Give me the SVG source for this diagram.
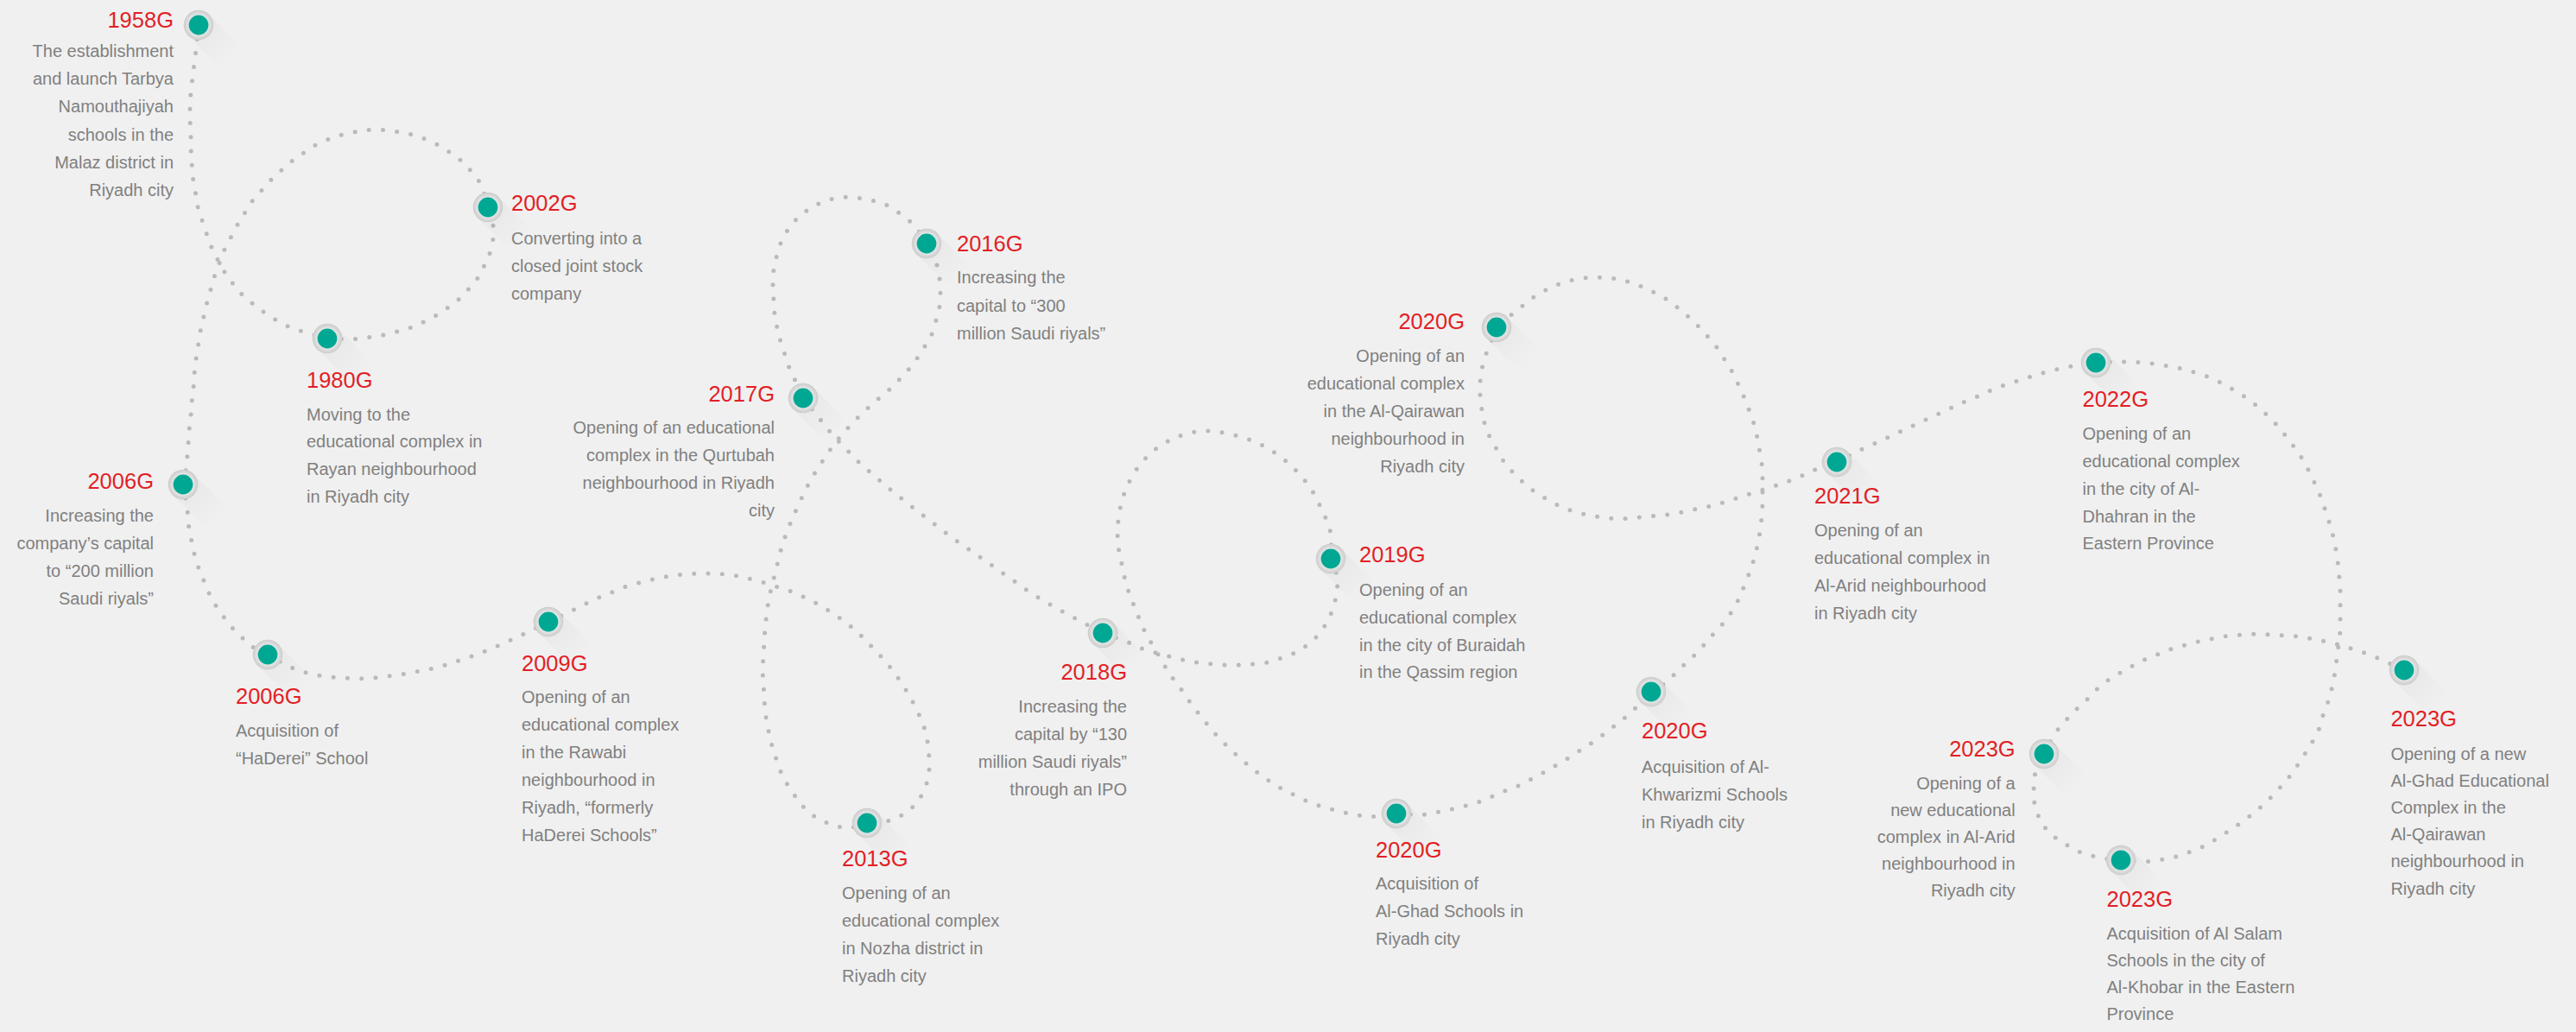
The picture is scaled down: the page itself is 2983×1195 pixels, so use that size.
<svg xmlns="http://www.w3.org/2000/svg" xmlns:xlink="http://www.w3.org/1999/xlink" width="2983" height="1195" viewBox="0 0 2983 1195">
<defs>
<style>
.conn{fill:none;stroke:#bababa;stroke-width:5;stroke-linecap:round;stroke-linejoin:round;stroke-dasharray:0 16.3}
.yr{font-family:"Liberation Sans",Arial,sans-serif;font-size:25.5px;fill:#e21f26}
.bd{font-family:"Liberation Sans",Arial,sans-serif;font-size:20px;fill:#808080}
.e{text-anchor:end}
</style>
<radialGradient id="ring" cx="0.5" cy="0.5" r="0.5">
<stop offset="0.6" stop-color="#ececec"/>
<stop offset="1" stop-color="#cbcbcb"/>
</radialGradient>
<linearGradient id="sh" gradientUnits="userSpaceOnUse" x1="0" y1="0" x2="40" y2="40">
<stop offset="0" stop-color="#000" stop-opacity="0.035"/>
<stop offset="1" stop-color="#000" stop-opacity="0"/>
</linearGradient>
<g id="pin">
<path d="M-12 12 L12 -12 L52 28 L28 52 Z" fill="url(#sh)"/>
<circle r="17.3" fill="url(#ring)"/>
<circle r="11.4" fill="#00a894"/>
</g>
</defs>
<rect width="2983" height="1195" fill="#f0f0f0"/>
<g id="connectors">
<path class="conn" d="M230 29 L227 58 L225 73 L223 90 L221 106 L220 122 L220 139 L221 155 L221 171 L222 187 L223 204 L226 220 L228 236 L233 252 L238 267 L243 282 L250 297 L258 312 L267 325 L277 338 L289 349 L302 359 L315 368 L329 376 L344 382 L360 387 L379 392"/>
<path class="conn" d="M379 392 L408 393 L440 389 L472 381 L501 368 L528 350 L551 326 L566 298 L571 277 L571 261 L565 240"/>
<path class="conn" d="M565 240 L558 214 L538 189 L512 170 L483 157 L451 151 L435 150 L419 151 L388 158 L363 169 L336 188 L312 210 L291 234 L274 262 L259 291 L248 321 L239 353 L232 384 L227 416 L225 433 L224 449 L222 466 L221 482 L219 498 L218 514 L216 540 L212 561"/>
<path class="conn" d="M212 561 L217 590 L218 606 L221 622 L224 638 L229 655 L235 670 L241 685 L249 700 L258 713 L268 726 L280 738 L292 749 L310 758"/>
<path class="conn" d="M310 758 L335 772 L351 778 L367 782 L383 784 L400 785 L416 786 L433 785 L449 783 L465 781 L481 778 L497 775 L513 771 L537 763 L552 758 L567 752 L581 746 L596 739 L611 732 L635 720"/>
<path class="conn" d="M635 720 L654 711 L669 704 L684 696 L698 690 L713 684 L728 678 L744 674 L759 670 L775 667 L791 665 L807 664 L823 664 L839 665 L855 667 L871 671 L886 675 L901 680 L917 685 L939 695 L953 703 L967 712 L980 721 L992 731 L1003 742 L1014 754 L1025 765 L1035 778 L1044 791 L1053 805 L1060 819 L1067 833 L1072 848 L1075 864 L1076 879 L1076 896 L1072 911 L1065 925 L1054 938 L1041 946 L1033 950 L1004 953"/>
<path class="conn" d="M1004 953 L984 959 L968 957 L953 951 L939 943 L928 932 L918 918 L909 904 L902 889 L897 873 L892 857 L889 841 L886 825 L885 808 L884 792 L883 776 L884 759 L885 743 L886 726 L888 710 L890 694 L898 662 L902 646 L906 630 L912 614 L918 599 L925 584 L932 569 L939 555 L948 541 L957 527 L967 513 L977 501 L988 489 L1000 477 L1017 462 L1029 452 L1041 440 L1052 428 L1062 415 L1071 401 L1079 387 L1084 371 L1088 355 L1089 339 L1088 323 L1085 307 L1073 282"/>
<path class="conn" d="M1073 282 L1061 263 L1049 252 L1036 243 L1026 237 L1010 232 L993 229 L977 228 L960 231 L945 237 L931 246 L919 257 L909 271 L902 286 L898 302 L895 318 L895 332 L896 348 L897 364 L900 380 L904 396 L909 411 L914 426 L921 441 L930 461"/>
<path class="conn" d="M930 461 L947 482 L957 495 L967 507 L979 519 L990 531 L1002 542 L1014 552 L1026 563 L1039 573 L1051 583 L1064 593 L1077 603 L1090 613 L1103 623 L1116 632 L1129 641 L1142 650 L1156 660 L1176 674 L1190 684 L1204 693 L1218 701 L1232 709 L1247 717 L1262 725 L1277 733"/>
<path class="conn" d="M1277 733 L1307 744 L1322 751 L1339 756 L1354 760 L1370 764 L1386 767 L1403 769 L1419 770 L1436 770 L1452 769 L1468 767 L1484 762 L1500 756 L1514 747 L1526 736 L1536 722 L1543 707 L1547 692 L1549 676 L1548 665 L1541 647"/>
<path class="conn" d="M1541 647 L1542 620 L1537 604 L1530 589 L1523 574 L1514 560 L1503 547 L1492 536 L1479 526 L1465 517 L1450 510 L1434 505 L1418 501 L1402 499 L1390 499 L1373 502 L1358 508 L1343 516 L1330 527 L1319 539 L1310 553 L1303 568 L1298 584 L1295 601 L1294 618 L1295 634 L1298 648 L1301 664 L1305 680 L1311 696 L1317 711 L1323 726 L1331 741 L1340 756 L1348 770 L1357 784 L1367 797 L1382 819 L1392 831 L1402 844 L1413 856 L1425 868 L1437 879 L1449 889 L1462 899 L1475 908 L1489 916 L1504 923 L1518 930 L1534 935 L1549 939 L1565 943 L1581 945 L1597 946 L1617 942"/>
<path class="conn" d="M1617 942 L1646 944 L1662 941 L1678 938 L1693 934 L1709 930 L1724 924 L1739 917 L1754 912 L1768 905 L1783 897 L1797 889 L1811 881 L1825 872 L1839 863 L1852 854 L1865 844 L1878 834 L1890 824 L1912 801"/>
<path class="conn" d="M1912 801 L1927 792 L1939 781 L1951 769 L1963 758 L1974 746 L1985 733 L1999 718 L2006 707 L2014 693 L2020 678 L2026 663 L2031 648 L2035 632 L2038 616 L2040 600 L2041 584 L2041 566 L2041 551 L2040 535 L2037 519 L2034 502 L2030 487 L2024 471 L2018 456 L2011 441 L2004 427 L1995 413 L1986 399 L1975 387 L1964 375 L1952 364 L1940 354 L1926 344 L1912 337 L1897 330 L1882 325 L1866 322 L1850 321 L1834 322 L1817 325 L1802 330 L1788 337 L1773 346 L1761 356 L1747 367 L1733 379"/>
<path class="conn" d="M1733 379 L1726 398 L1720 412 L1716 427 L1714 443 L1714 459 L1716 475 L1719 490 L1725 506 L1733 520 L1741 534 L1751 546 L1762 557 L1774 567 L1788 576 L1802 584 L1816 590 L1832 595 L1847 598 L1863 600 L1874 601 L1890 600 L1906 598 L1922 597 L1938 595 L1954 592 L1970 588 L1986 585 L2002 580 L2017 575 L2032 570 L2048 565 L2064 560 L2079 554 L2094 548 L2109 540 L2127 535"/>
<path class="conn" d="M2127 535 L2154 521 L2168 515 L2183 508 L2198 501 L2213 494 L2228 487 L2243 480 L2258 473 L2273 466 L2288 460 L2303 453 L2318 447 L2333 442 L2349 437 L2365 432 L2381 428 L2404 423 L2427 420"/>
<path class="conn" d="M2427 420 L2452 419 L2468 419 L2484 420 L2500 422 L2516 425 L2532 428 L2547 433 L2562 438 L2577 446 L2591 454 L2605 463 L2617 473 L2629 484 L2640 496 L2650 509 L2660 522 L2669 536 L2676 550 L2683 565 L2689 579 L2694 595 L2699 610 L2703 626 L2706 642 L2708 658 L2709 670 L2710 683 L2710 699 L2710 715 L2710 731 L2708 747 L2706 763 L2704 778 L2701 794 L2697 810 L2691 825 L2686 843 L2679 857 L2671 870 L2662 884 L2653 897 L2643 909 L2632 921 L2621 932 L2609 942 L2596 952 L2583 961 L2569 970 L2548 982 L2532 988 L2517 993 L2500 996 L2484 998 L2456 996"/>
<path class="conn" d="M2456 996 L2436 994 L2419 990 L2404 985 L2391 977 L2377 968 L2366 956 L2359 942 L2355 926 L2355 914 L2356 898 L2367 873"/>
<path class="conn" d="M2367 873 L2376 855 L2385 842 L2396 830 L2407 819 L2419 808 L2432 794 L2445 785 L2459 777 L2473 769 L2487 762 L2503 756 L2518 750 L2534 746 L2549 742 L2565 739 L2581 736 L2598 735 L2614 734 L2630 735 L2646 736 L2662 737 L2678 740 L2694 743 L2710 747 L2726 752 L2741 757 L2756 763 L2784 776"/>
</g>
<g id="n1958">
<use xlink:href="#pin" x="230" y="29"/>
<text class="yr e" x="201" y="32">1958G</text>
<text class="bd e"><tspan x="201" y="66">The establishment</tspan><tspan x="201" y="98">and launch Tarbya</tspan><tspan x="201" y="130">Namouthajiyah</tspan><tspan x="201" y="162.5">schools in the</tspan><tspan x="201" y="194.5">Malaz district in</tspan><tspan x="201" y="226.5">Riyadh city</tspan></text>
</g>
<g id="n1980">
<use xlink:href="#pin" x="379" y="392"/>
<text class="yr" x="355" y="449">1980G</text>
<text class="bd"><tspan x="355" y="486.5">Moving to the</tspan><tspan x="355" y="518.3">educational complex in</tspan><tspan x="355" y="550.2">Rayan neighbourhood</tspan><tspan x="355" y="582">in Riyadh city</tspan></text>
</g>
<g id="n2002">
<use xlink:href="#pin" x="565" y="240"/>
<text class="yr" x="592" y="244">2002G</text>
<text class="bd"><tspan x="592" y="283">Converting into a</tspan><tspan x="592" y="315">closed joint stock</tspan><tspan x="592" y="347">company</tspan></text>
</g>
<g id="n2006a">
<use xlink:href="#pin" x="212" y="561"/>
<text class="yr e" x="178" y="566">2006G</text>
<text class="bd e"><tspan x="178" y="604">Increasing the</tspan><tspan x="178" y="636">company’s capital</tspan><tspan x="178" y="668">to “200 million</tspan><tspan x="178" y="700">Saudi riyals”</tspan></text>
</g>
<g id="n2006b">
<use xlink:href="#pin" x="310" y="758"/>
<text class="yr" x="273" y="815">2006G</text>
<text class="bd"><tspan x="273" y="853">Acquisition of</tspan><tspan x="273" y="885">“HaDerei” School</tspan></text>
</g>
<g id="n2009">
<use xlink:href="#pin" x="635" y="720"/>
<text class="yr" x="604" y="777">2009G</text>
<text class="bd"><tspan x="604" y="814.4">Opening of an</tspan><tspan x="604" y="846.4">educational complex</tspan><tspan x="604" y="878.4">in the Rawabi</tspan><tspan x="604" y="910.4">neighbourhood in</tspan><tspan x="604" y="942.4">Riyadh, “formerly</tspan><tspan x="604" y="974.4">HaDerei Schools”</tspan></text>
</g>
<g id="n2013">
<use xlink:href="#pin" x="1004" y="953"/>
<text class="yr" x="975" y="1003">2013G</text>
<text class="bd"><tspan x="975" y="1041">Opening of an</tspan><tspan x="975" y="1073">educational complex</tspan><tspan x="975" y="1105">in Nozha district in</tspan><tspan x="975" y="1137">Riyadh city</tspan></text>
</g>
<g id="n2016">
<use xlink:href="#pin" x="1073" y="282"/>
<text class="yr" x="1108" y="291">2016G</text>
<text class="bd"><tspan x="1108" y="328.3">Increasing the</tspan><tspan x="1108" y="360.5">capital to “300</tspan><tspan x="1108" y="392.7">million Saudi riyals”</tspan></text>
</g>
<g id="n2017">
<use xlink:href="#pin" x="930" y="461"/>
<text class="yr e" x="897" y="465">2017G</text>
<text class="bd e"><tspan x="897" y="502.3">Opening of an educational</tspan><tspan x="897" y="534.3">complex in the Qurtubah</tspan><tspan x="897" y="566.3">neighbourhood in Riyadh</tspan><tspan x="897" y="598.3">city</tspan></text>
</g>
<g id="n2018">
<use xlink:href="#pin" x="1277" y="733"/>
<text class="yr e" x="1305" y="786.6">2018G</text>
<text class="bd e"><tspan x="1305" y="825">Increasing the</tspan><tspan x="1305" y="857">capital by “130</tspan><tspan x="1305" y="889">million Saudi riyals”</tspan><tspan x="1305" y="921">through an IPO</tspan></text>
</g>
<g id="n2019">
<use xlink:href="#pin" x="1541" y="647"/>
<text class="yr" x="1574" y="651">2019G</text>
<text class="bd"><tspan x="1574" y="690">Opening of an</tspan><tspan x="1574" y="721.8">educational complex</tspan><tspan x="1574" y="753.6">in the city of Buraidah</tspan><tspan x="1574" y="785.4">in the Qassim region</tspan></text>
</g>
<g id="n2020a">
<use xlink:href="#pin" x="1617" y="942"/>
<text class="yr" x="1593" y="993">2020G</text>
<text class="bd"><tspan x="1593" y="1029.5">Acquisition of</tspan><tspan x="1593" y="1061.5">Al-Ghad Schools in</tspan><tspan x="1593" y="1093.5">Riyadh city</tspan></text>
</g>
<g id="n2020b">
<use xlink:href="#pin" x="1912" y="801"/>
<text class="yr" x="1901" y="855.4">2020G</text>
<text class="bd"><tspan x="1901" y="894.5">Acquisition of Al-</tspan><tspan x="1901" y="926.5">Khwarizmi Schools</tspan><tspan x="1901" y="958.5">in Riyadh city</tspan></text>
</g>
<g id="n2020c">
<use xlink:href="#pin" x="1733" y="379"/>
<text class="yr e" x="1696" y="381">2020G</text>
<text class="bd e"><tspan x="1696" y="419.3">Opening of an</tspan><tspan x="1696" y="451.3">educational complex</tspan><tspan x="1696" y="483.3">in the Al-Qairawan</tspan><tspan x="1696" y="515.3">neighbourhood in</tspan><tspan x="1696" y="547.3">Riyadh city</tspan></text>
</g>
<g id="n2021">
<use xlink:href="#pin" x="2127" y="535"/>
<text class="yr" x="2101" y="583">2021G</text>
<text class="bd"><tspan x="2101" y="621.4">Opening of an</tspan><tspan x="2101" y="653.4">educational complex in</tspan><tspan x="2101" y="685.4">Al-Arid neighbourhood</tspan><tspan x="2101" y="717.4">in Riyadh city</tspan></text>
</g>
<g id="n2022">
<use xlink:href="#pin" x="2427" y="420"/>
<text class="yr" x="2411.5" y="471">2022G</text>
<text class="bd"><tspan x="2411.5" y="509.2">Opening of an</tspan><tspan x="2411.5" y="541">educational complex</tspan><tspan x="2411.5" y="572.8">in the city of Al-</tspan><tspan x="2411.5" y="604.6">Dhahran in the</tspan><tspan x="2411.5" y="636.4">Eastern Province</tspan></text>
</g>
<g id="n2023a">
<use xlink:href="#pin" x="2456" y="996"/>
<text class="yr" x="2439.5" y="1049.7">2023G</text>
<text class="bd"><tspan x="2439.5" y="1087.5">Acquisition of Al Salam</tspan><tspan x="2439.5" y="1118.8">Schools in the city of</tspan><tspan x="2439.5" y="1150.1">Al-Khobar in the Eastern</tspan><tspan x="2439.5" y="1181.4">Province</tspan></text>
</g>
<g id="n2023b">
<use xlink:href="#pin" x="2367" y="873"/>
<text class="yr e" x="2333.7" y="876.3">2023G</text>
<text class="bd e"><tspan x="2333.7" y="913.8">Opening of a</tspan><tspan x="2333.7" y="944.8">new educational</tspan><tspan x="2333.7" y="975.8">complex in Al-Arid</tspan><tspan x="2333.7" y="1007">neighbourhood in</tspan><tspan x="2333.7" y="1038.3">Riyadh city</tspan></text>
</g>
<g id="n2023c">
<use xlink:href="#pin" x="2784" y="776"/>
<text class="yr" x="2768.4" y="841">2023G</text>
<text class="bd"><tspan x="2768.4" y="879.5">Opening of a new</tspan><tspan x="2768.4" y="910.7">Al-Ghad Educational</tspan><tspan x="2768.4" y="941.9">Complex in the</tspan><tspan x="2768.4" y="973.1">Al-Qairawan</tspan><tspan x="2768.4" y="1004.3">neighbourhood in</tspan><tspan x="2768.4" y="1035.5">Riyadh city</tspan></text>
</g>
</svg>
